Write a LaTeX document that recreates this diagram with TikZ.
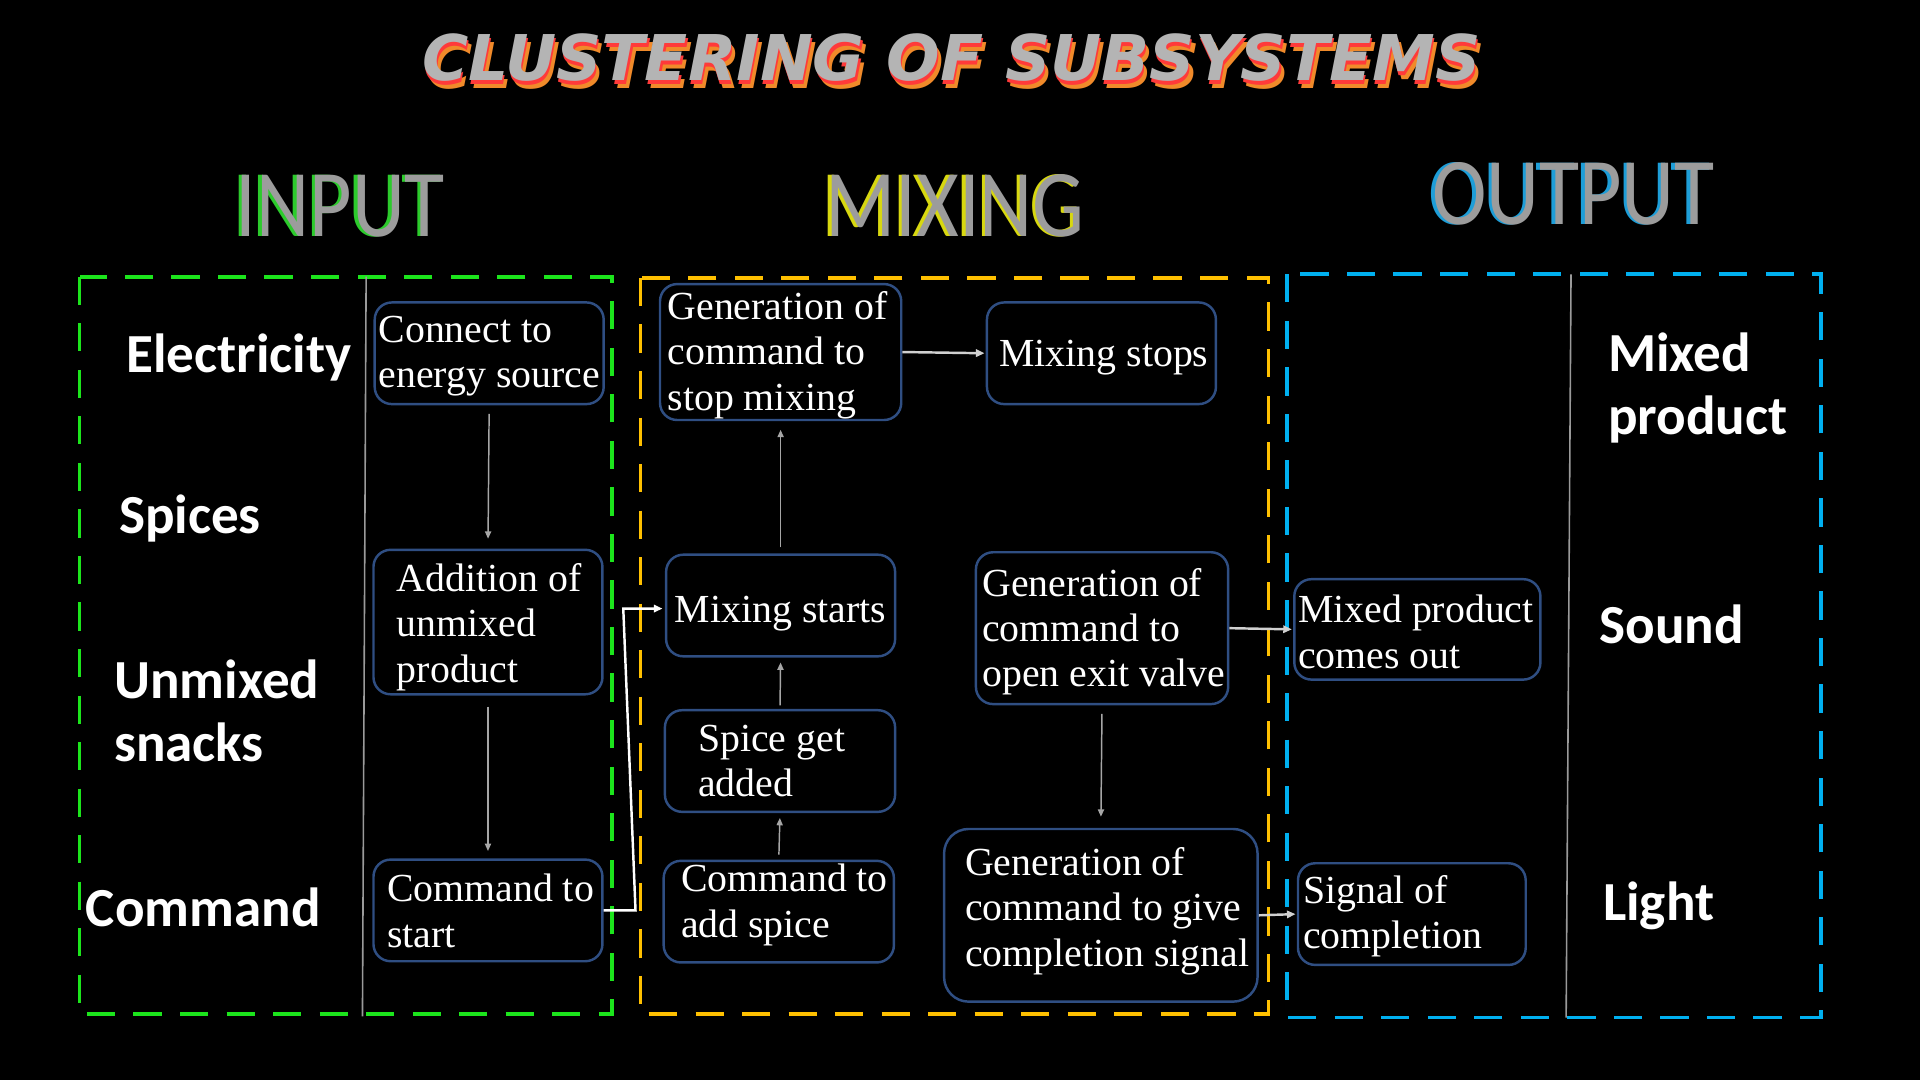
\documentclass[tikz,border=0pt]{standalone}
\usepackage{fontspec}
\setmainfont{Liberation Serif}
\newfontfamily\calb{Carlito}
\newfontfamily\ttfam{DejaVu Sans}
\usetikzlibrary{arrows.meta}
\definecolor{bxc}{HTML}{2F4E82}
\definecolor{grn}{HTML}{1CE51C}
\definecolor{ylw}{HTML}{FFC000}
\definecolor{blu}{HTML}{00B0F0}
\definecolor{thin}{HTML}{9A9A9A}
\definecolor{arrg}{HTML}{A6A6A6}
\definecolor{arrl}{HTML}{D0D0D0}
\definecolor{ttgray}{HTML}{B4B4B4}
\definecolor{ttred}{HTML}{FF3A3A}
\definecolor{ttorg}{HTML}{F08A2A}
\definecolor{hgray}{HTML}{9C9C9C}
\definecolor{hgrn}{HTML}{2CCB2C}
\definecolor{hylw}{HTML}{D8D810}
\definecolor{hblu}{HTML}{1E9ED8}
\tikzset{
 bx/.style={draw=bxc, line width=2pt, rounded corners=14pt, fill=black, inner sep=0pt},
 tx/.style={text=white, font=\fontsize{32.5}{37}\selectfont, align=left, inner sep=0pt, anchor=west},
 lb/.style={text=white, font=\calb\bfseries\fontsize{45}{52}\selectfont, inner sep=0pt, align=left},
 ga/.style={draw=arrg, line width=1.2pt, -{Triangle[length=6pt,width=5pt]}},
 la/.style={draw=arrl, line width=2pt, -{Triangle[length=7pt,width=6pt]}},
 wa/.style={draw=white, line width=2pt, -{Triangle[length=7pt,width=6pt]}},
 frame/.style={line width=3pt, dash pattern=on 23pt off 15pt},
 hd/.style={font=\calb\fontsize{78}{80}\selectfont, inner sep=0pt, anchor=base},
 ttl/.style={font=\ttfam\bfseries\itshape\fontsize{51.5}{54}\selectfont, inner sep=0pt, anchor=base},
 sep/.style={draw=thin, line width=1.3pt},
}
\begin{document}
\begin{tikzpicture}[x=1pt,y=-1pt]
\useasboundingbox (0,0) rectangle (1568,882);
\fill[black] (0,0) rectangle (1568,882);

% title (layered 3D look)
\node[ttl, text=ttorg] (ttlo) at (780.5,72.5) {CLUSTERING OF SUBSYSTEMS};
\node[ttl, text=ttred] (ttlr) at (778,69) {CLUSTERING OF SUBSYSTEMS};
\node[ttl, text=ttgray] (ttlg) at (777,65.5) {CLUSTERING OF SUBSYSTEMS};

% headings
\node[hd, text=hgrn] (hin1) at (275,193) {\scalebox{0.86}[1]{INPUT}};
\node[hd, text=hgray] (hin2) at (278,193) {\scalebox{0.86}[1]{INPUT}};
\node[hd, text=hylw] (hmx1) at (777,193) {\scalebox{0.86}[1]{MIXING}};
\node[hd, text=hgray] (hmx2) at (780,193) {\scalebox{0.86}[1]{MIXING}};
\node[hd, text=hblu] (hout1) at (1282,183) {\scalebox{0.86}[1]{OUTPUT}};
\node[hd, text=hgray] (hout2) at (1285,183) {\scalebox{0.86}[1]{OUTPUT}};

% frames
\draw[frame, draw=grn] (65,226) rectangle (500,828);
\draw[frame, draw=ylw] (523,227) rectangle (1036,828);
\draw[frame, draw=blu] (1051,224) rectangle (1487,831);
\draw[sep] (299,226) -- (296,830);
\draw[sep] (1283,224) -- (1279,831);

% side labels
\node[lb, anchor=base west] (lelec) at (103,304) {Electricity};
\node[lb, anchor=base west] (lspice) at (97,436) {Spices};
\node[lb, anchor=west] (lunmix) at (93,580.5) {Unmixed\\snacks};
\node[lb, anchor=base west] (lcmd) at (70,757) {Command};
\node[lb, anchor=west] (lmixed) at (1313,317) {Mixed\\product};
\node[lb, anchor=base west] (lsound) at (1306,525.5) {Sound};
\node[lb, anchor=base west] (llight) at (1309,751.5) {Light};

% boxes
\node[bx, minimum width=187pt, minimum height=83pt] (b1) at (399.5,288.5) {};
\node[bx, minimum width=187pt, minimum height=118pt] (b2) at (398.5,508) {};
\node[bx, minimum width=187pt, minimum height=83pt] (b3) at (398.5,743.5) {};
\node[bx, minimum width=197pt, minimum height=111pt] (b4) at (637.5,287.5) {};
\node[bx, minimum width=187pt, minimum height=83pt] (b5) at (899.5,288.5) {};
\node[bx, minimum width=187pt, minimum height=83pt] (b6) at (637.5,494.5) {};
\node[bx, minimum width=188pt, minimum height=83pt] (b7) at (637,621.5) {};
\node[bx, minimum width=188pt, minimum height=83pt] (b8) at (636,744.5) {};
\node[bx, minimum width=206pt, minimum height=124pt] (b9) at (900,513) {};
\node[bx, minimum width=256pt, minimum height=141pt, rounded corners=20pt] (b10) at (899,747.5) {};
\node[bx, minimum width=201pt, minimum height=82pt] (b11) at (1157.5,514) {};
\node[bx, minimum width=186pt, minimum height=83pt] (b12) at (1153,746.5) {};

% box texts
\node[tx] (t1) at (309,291) {Connect to\\energy source};
\node[tx] (t2) at (324,512) {Addition of\\unmixed\\product};
\node[tx] (t3) at (316,744) {Command to\\start};
\node[tx] (t4) at (545,290) {Generation of\\command to\\stop mixing};
\node[tx] (t5) at (816,292) {Mixing stops};
\node[tx] (t6) at (551,501) {Mixing starts};
\node[tx] (t7) at (570,621.5) {Spice get\\added};
\node[tx] (t8) at (556,739) {Command to\\add spice};
\node[tx] (t9) at (802,516) {Generation of\\command to\\open exit valve};
\node[tx] (t10) at (788,744) {Generation of\\command to give\\completion signal};
\node[tx] (t11) at (1060,516) {Mixed product\\comes out};
\node[tx] (t12) at (1064,748.5) {Signal of\\completion};

% connectors
\draw[ga, shorten <=7pt, shorten >=8pt] (b1.south) -- (b2.north);
\draw[ga, shorten <=9pt, shorten >=6pt] (b2.south) -- (b3.north);
\coordinate (k1) at (519,743.5);
\coordinate (k2) at (509,497);
\draw[wa, shorten >=2pt] (b3.east) -- (k1) -- (k2) -- (k2 -| b6.west);
\draw[ga, shorten <=5pt, shorten >=7pt] (b6.north) -- (b4.south);
\draw[ga, shorten <=3pt, shorten >=4pt] (b7.north) -- (b6.south);
\draw[ga, shorten <=4pt, shorten >=4pt] (b8.north) -- (b7.south);
\draw[la, shorten >=1pt] (b4.east) -- (b5.west);
\draw[la, shorten >=1pt] (b9.east) -- (b11.west);
\draw[ga, shorten <=7pt, shorten >=9pt] (b9.south) -- (b10.north);
\draw[la, shorten >=1pt] (b10.east) -- (b12.west);
\end{tikzpicture}
\end{document}
